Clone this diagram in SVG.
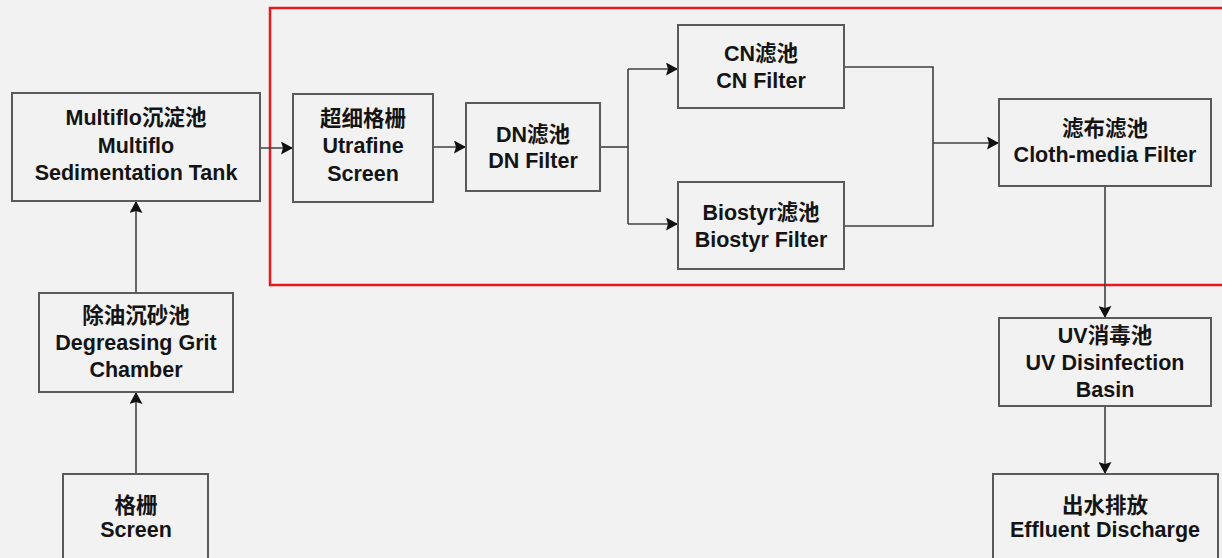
<svg xmlns="http://www.w3.org/2000/svg" width="1222" height="558" viewBox="0 0 1222 558">
<style>
.box{fill:#f2f2f2;stroke:#5a5a5a;stroke-width:2}
.t{font-family:"Liberation Sans","Noto Sans CJK SC",Arial,sans-serif;font-weight:bold;font-size:21.5px;fill:#141414;text-anchor:middle}
.c{fill:none;stroke:#404040;stroke-width:1.6}
</style>
<defs>
<marker id="ah" viewBox="0 0 12 13" refX="12" refY="6.5" markerWidth="12" markerHeight="13" markerUnits="userSpaceOnUse" orient="auto">
<path d="M0,0 L12,6.5 L0,13 L2,6.5 z" fill="#111"/>
</marker>
</defs>
<rect width="1222" height="558" fill="#f2f2f2"/>
<rect x="270" y="8" width="980" height="277" fill="none" stroke="#e8191e" stroke-width="2.5"/>
<g id="connectors">
<path class="c" d="M136,474 V392" marker-end="url(#ah)"/>
<path class="c" d="M136,293 V201" marker-end="url(#ah)"/>
<path class="c" d="M260,148 H293" marker-end="url(#ah)"/>
<path class="c" d="M433,147 H466" marker-end="url(#ah)"/>
<path class="c" d="M600,147 H628"/>
<path class="c" d="M628,69 V224"/>
<path class="c" d="M628,69 H678" marker-end="url(#ah)"/>
<path class="c" d="M628,224 H678" marker-end="url(#ah)"/>
<path class="c" d="M844,67 H933 V226 H844"/>
<path class="c" d="M933,143 H999" marker-end="url(#ah)"/>
<path class="c" d="M1105,186 V318" marker-end="url(#ah)"/>
<path class="c" d="M1105,406 V474" marker-end="url(#ah)"/>
</g>
<g id="multiflo">
<rect class="box" x="12" y="93" width="248" height="108"/>
<text class="t" x="136" y="125">Multiflo沉淀池</text>
<text class="t" x="136" y="152.5">Multiflo</text>
<text class="t" x="136" y="180">Sedimentation Tank</text>
</g>
<g id="degreasing">
<rect class="box" x="39" y="293" width="194" height="99"/>
<text class="t" x="136" y="323">除油沉砂池</text>
<text class="t" x="136" y="349.5">Degreasing Grit</text>
<text class="t" x="136" y="377">Chamber</text>
</g>
<g id="screen">
<rect class="box" x="63" y="474" width="145" height="100"/>
<text class="t" x="136" y="513">格栅</text>
<text class="t" x="136" y="537">Screen</text>
</g>
<g id="utrafine">
<rect class="box" x="293" y="94" width="140" height="108"/>
<text class="t" x="363" y="126">超细格栅</text>
<text class="t" x="363" y="153">Utrafine</text>
<text class="t" x="363" y="181">Screen</text>
</g>
<g id="dn">
<rect class="box" x="466" y="103" width="134" height="88"/>
<text class="t" x="533" y="141.5">DN滤池</text>
<text class="t" x="533" y="168">DN Filter</text>
</g>
<g id="cn">
<rect class="box" x="678" y="25" width="166" height="83"/>
<text class="t" x="761" y="60.5">CN滤池</text>
<text class="t" x="761" y="87.5">CN Filter</text>
</g>
<g id="biostyr">
<rect class="box" x="678" y="182" width="166" height="87"/>
<text class="t" x="761" y="219.5">Biostyr滤池</text>
<text class="t" x="761" y="246.5">Biostyr Filter</text>
</g>
<g id="cloth">
<rect class="box" x="999" y="99" width="212" height="87"/>
<text class="t" x="1105" y="136">滤布滤池</text>
<text class="t" x="1105" y="162">Cloth-media Filter</text>
</g>
<g id="uv">
<rect class="box" x="999" y="318" width="212" height="88"/>
<text class="t" x="1105" y="343">UV消毒池</text>
<text class="t" x="1105" y="369.5">UV Disinfection</text>
<text class="t" x="1105" y="396.5">Basin</text>
</g>
<g id="effluent">
<rect class="box" x="993" y="474" width="225" height="100"/>
<text class="t" x="1105" y="513">出水排放</text>
<text class="t" x="1105" y="537">Effluent Discharge</text>
</g>
</svg>
